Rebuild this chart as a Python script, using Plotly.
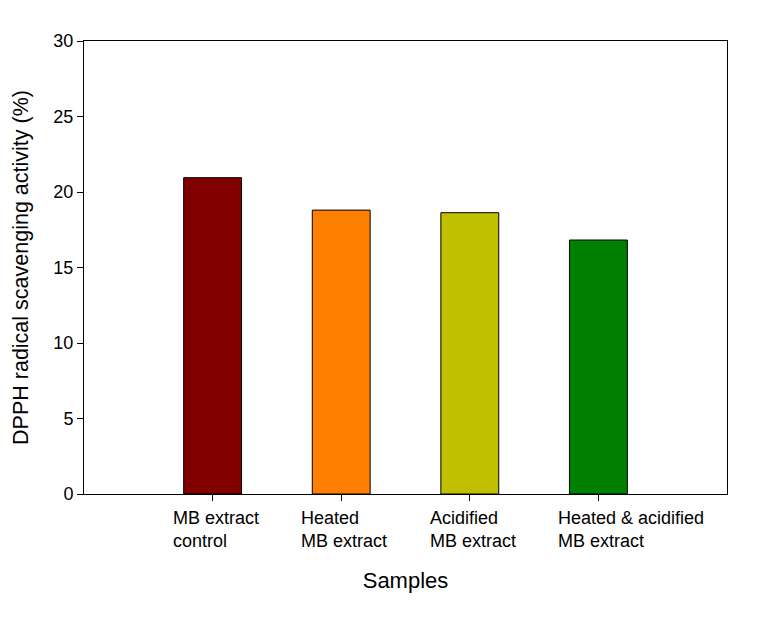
import plotly.graph_objects as go

categories = ["MB extract<br>control", "Heated<br>MB extract", "Acidified<br>MB extract", "Heated & acidified<br>MB extract"]
values = [20.95, 18.8, 18.63, 16.82]
colors = ["#800000", "#FF8000", "#C0C000", "#008000"]
y_ticks = [0, 5, 10, 15, 20, 25, 30]

FONT = "Liberation Sans, Arial, sans-serif"

fig = go.Figure()
fig.add_trace(go.Bar(
    x=list(range(len(categories))), y=values, width=0.45,
    marker=dict(color=colors, line=dict(color="black", width=1)),
    showlegend=False,
))

for i, lab in enumerate(categories):
    fig.add_annotation(
        x=i, xref="x", y=0, yref="paper", yanchor="top", yshift=-12,
        xanchor="left", xshift=-42, align="left", showarrow=False,
        text=lab, font=dict(family=FONT, size=18, color="black"),
    )

fig.update_layout(
    width=749, height=622,
    margin=dict(l=76, r=30, t=33, b=136),
    paper_bgcolor="white", plot_bgcolor="white",
    font=dict(family=FONT, size=18, color="black"),
    xaxis=dict(
        range=[-1, 4], tickvals=list(range(len(categories))), ticktext=[""] * len(categories),
        ticks="outside", ticklen=6, tickcolor="black", showgrid=False, zeroline=False,
        showline=True, linecolor="black", linewidth=1, mirror=True,
        title=dict(text="Samples", font=dict(family=FONT, size=22), standoff=68),
    ),
    yaxis=dict(
        range=[0, 30], tickvals=y_ticks, ticks="outside", ticklen=6, tickcolor="black",
        showgrid=False, zeroline=False, showline=True, linecolor="black", linewidth=1, mirror=True,
        tickfont=dict(family=FONT, size=18),
        title=dict(text="DPPH radical scavenging activity (%)", font=dict(family=FONT, size=21.5), standoff=18),
    ),
)

fig.write_html("out.html")
